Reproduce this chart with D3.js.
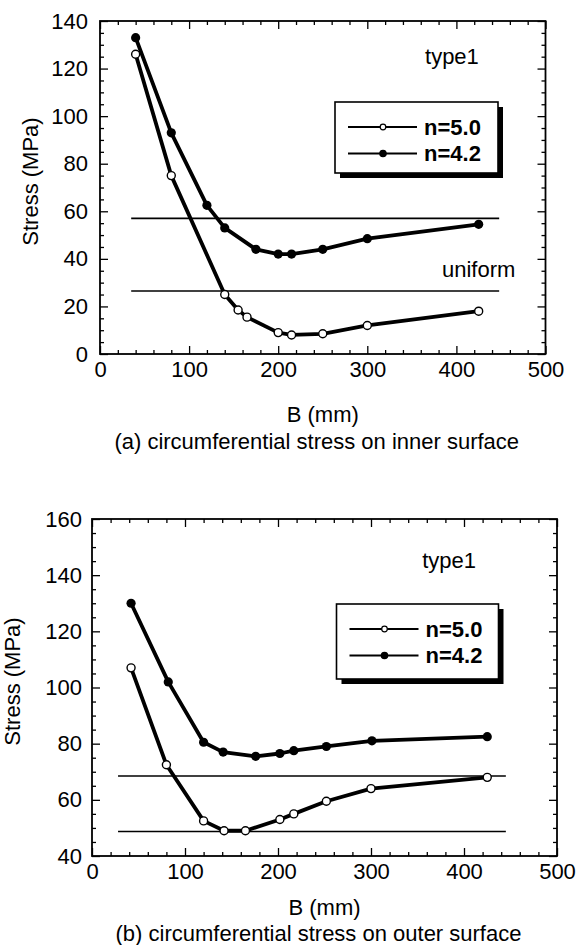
<!DOCTYPE html>
<html>
<head>
<meta charset="utf-8">
<script src="https://cdn.jsdelivr.net/npm/d3@7"></script>
<style>
  html, body { margin: 0; padding: 0; background: #fff; }
  svg { display: block; font-family: "Liberation Sans", Arial, Helvetica, sans-serif; }
</style>
</head>
<body>
<svg id="chart" width="580" height="945"></svg>
<script>
// ---------- data ----------
const xTickValues = [0, 100, 200, 300, 400, 500];
const aYTickValues = [0, 20, 40, 60, 80, 100, 120, 140];
const bYTickValues = [40, 60, 80, 100, 120, 140, 160];
const seriesNames = ["n=5.0", "n=4.2"];

// (a) inner surface
const aB_n50 = [40, 80, 140, 155, 165, 200, 215, 250, 300, 425];
const aS_n50 = [126, 75, 25, 18.5, 15.5, 9, 8, 8.5, 12, 18];
const aB_n42 = [40, 80, 120, 140, 175, 200, 215, 250, 300, 425];
const aS_n42 = [133, 93, 62.5, 53, 44, 42, 42, 44, 48.5, 54.5];
const aRefLevels = [57, 26.5];
const aRefRange = [35, 448];

// (b) outer surface
const bB_n50 = [42, 80, 120, 142, 165, 202, 217, 252, 300, 425];
const bS_n50 = [107, 72.5, 52.5, 49, 49, 53, 55, 59.5, 64, 68];
const bB_n42 = [42, 82, 120, 141, 176, 202, 217, 252, 301, 425];
const bS_n42 = [130, 102, 80.5, 77, 75.5, 76.5, 77.5, 79, 81, 82.5];
const bRefLevels = [68.5, 48.7];
const bRefRange = [28, 445];

const svg = d3.select("#chart");
const FONT = 22;

function drawPanel(cfg) {
  const g = svg.append("g");
  const x = d3.scaleLinear().domain([0, 500]).range([cfg.left, cfg.right]);
  const y = d3.scaleLinear().domain(cfg.yDomain).range([cfg.bottom, cfg.top]);
  const w = cfg.right - cfg.left, h = cfg.bottom - cfg.top;

  const xMinor = d3.range(0, 501, 20).filter(v => v % 100 !== 0);
  const yMinor = d3.range(cfg.yDomain[0], cfg.yDomain[1] + 0.1, 5).filter(v => v % 20 !== 0);

  function styleAxis(sel) {
    sel.select(".domain").remove();
    sel.selectAll(".tick line").attr("stroke", "#000").attr("stroke-width", 1.3);
    sel.selectAll("text").attr("fill", "#000").style("font-size", FONT + "px").style("font-family", "Liberation Sans, Arial, sans-serif");
  }

  g.append("g").attr("transform", `translate(0,${cfg.bottom})`)
    .call(d3.axisBottom(x).tickValues(xTickValues).tickSizeInner(-8).tickSizeOuter(0).tickPadding(cfg.xPad).tickFormat(d3.format("d")))
    .call(styleAxis);
  g.append("g").attr("transform", `translate(0,${cfg.bottom})`)
    .call(d3.axisBottom(x).tickValues(xMinor).tickSizeInner(-4).tickSizeOuter(0).tickFormat(""))
    .call(styleAxis);
  g.append("g").attr("transform", `translate(0,${cfg.top})`)
    .call(d3.axisTop(x).tickValues(xTickValues).tickSizeInner(-8).tickSizeOuter(0).tickFormat(""))
    .call(styleAxis);
  g.append("g").attr("transform", `translate(0,${cfg.top})`)
    .call(d3.axisTop(x).tickValues(xMinor).tickSizeInner(-4).tickSizeOuter(0).tickFormat(""))
    .call(styleAxis);
  g.append("g").attr("transform", `translate(${cfg.left},0)`)
    .call(d3.axisLeft(y).tickValues(cfg.yTicks).tickSizeInner(-8).tickSizeOuter(0).tickPadding(cfg.yPad).tickFormat(d3.format("d")))
    .call(styleAxis);
  g.append("g").attr("transform", `translate(${cfg.left},0)`)
    .call(d3.axisLeft(y).tickValues(yMinor).tickSizeInner(-4).tickSizeOuter(0).tickFormat(""))
    .call(styleAxis);
  g.append("g").attr("transform", `translate(${cfg.right},0)`)
    .call(d3.axisRight(y).tickValues(cfg.yTicks).tickSizeInner(-8).tickSizeOuter(0).tickFormat(""))
    .call(styleAxis);
  g.append("g").attr("transform", `translate(${cfg.right},0)`)
    .call(d3.axisRight(y).tickValues(yMinor).tickSizeInner(-4).tickSizeOuter(0).tickFormat(""))
    .call(styleAxis);

  g.append("rect").attr("x", cfg.left).attr("y", cfg.top).attr("width", w).attr("height", h)
    .attr("fill", "none").attr("stroke", "#000").attr("stroke-width", 1.8);

  cfg.refLevels.forEach(v => {
    g.append("line")
      .attr("x1", x(cfg.refRange[0])).attr("x2", x(cfg.refRange[1]))
      .attr("y1", y(v)).attr("y2", y(v))
      .attr("stroke", "#000").attr("stroke-width", 1.6);
  });

  const line = d3.line().x(d => x(d[0])).y(d => y(d[1]));
  const s50 = cfg.B50.map((b, i) => [b, cfg.S50[i]]);
  const s42 = cfg.B42.map((b, i) => [b, cfg.S42[i]]);

  [s50, s42].forEach(s => {
    g.append("path").datum(s).attr("d", line)
      .attr("fill", "none").attr("stroke", "#000").attr("stroke-width", 3.8)
      .attr("stroke-linejoin", "round");
  });
  g.selectAll(null).data(s42).join("circle")
    .attr("cx", d => x(d[0])).attr("cy", d => y(d[1])).attr("r", 4.6).attr("fill", "#000");
  g.selectAll(null).data(s50).join("circle")
    .attr("cx", d => x(d[0])).attr("cy", d => y(d[1])).attr("r", 4)
    .attr("fill", "#fff").attr("stroke", "#000").attr("stroke-width", 1.4);

  g.append("text").attr("transform", `translate(${cfg.yLabelX},${(cfg.top + cfg.bottom) / 2 - 6}) rotate(-90)`)
    .attr("text-anchor", "middle").attr("dominant-baseline", "central")
    .style("font-size", FONT + "px").text("Stress (MPa)");
  g.append("text").attr("x", (cfg.left + cfg.right) / 2).attr("y", cfg.xTitleY)
    .attr("text-anchor", "middle").attr("dominant-baseline", "central")
    .style("font-size", FONT + "px").text("B (mm)");
  g.append("text").attr("x", (cfg.left + cfg.right) / 2 - 6).attr("y", cfg.captionY)
    .attr("text-anchor", "middle").attr("dominant-baseline", "central")
    .style("font-size", FONT + "px").text(cfg.caption);

  g.append("text").attr("x", x(cfg.typePos[0])).attr("y", y(cfg.typePos[1]))
    .attr("text-anchor", "middle").attr("dominant-baseline", "central")
    .style("font-size", FONT + "px").text("type1");
  if (cfg.uniformPos) {
    g.append("text").attr("x", x(cfg.uniformPos[0])).attr("y", y(cfg.uniformPos[1]))
      .attr("text-anchor", "middle").attr("dominant-baseline", "central")
      .style("font-size", FONT + "px").text("uniform");
  }

  const L = cfg.legend;
  const lg = g.append("g");
  lg.append("rect").attr("x", L.x + 5).attr("y", L.y + 5).attr("width", L.w).attr("height", L.h).attr("fill", "#000");
  lg.append("rect").attr("x", L.x).attr("y", L.y).attr("width", L.w).attr("height", L.h)
    .attr("fill", "#fff").attr("stroke", "#000").attr("stroke-width", 1.6);
  seriesNames.forEach((name, i) => {
    const ry = L.y + L.row0 + i * L.rowGap;
    lg.append("line").attr("x1", L.x + 13).attr("x2", L.x + 82).attr("y1", ry).attr("y2", ry)
      .attr("stroke", "#000").attr("stroke-width", 1.8);
    lg.append("circle").attr("cx", L.x + 48).attr("cy", ry).attr("r", i === 0 ? 2.8 : 3.2)
      .attr("fill", i === 0 ? "#fff" : "#000").attr("stroke", "#000").attr("stroke-width", 1.2);
    lg.append("text").attr("x", L.x + 89).attr("y", ry).attr("dominant-baseline", "central")
      .style("font-size", "22px").style("font-weight", "bold").text(name);
  });
}

drawPanel({
  left: 100, right: 545.5, top: 21, bottom: 354,
  yDomain: [0, 140], yTicks: aYTickValues,
  B50: aB_n50, S50: aS_n50, B42: aB_n42, S42: aS_n42,
  refLevels: aRefLevels, refRange: aRefRange,
  xPad: 7, yPad: 12, yLabelX: 30, xTitleY: 414, captionY: 441,
  caption: "(a) circumferential stress on inner surface",
  typePos: [395, 125], uniformPos: [425, 35.7],
  legend: { x: 335, y: 102, w: 163, h: 71, row0: 25, rowGap: 26.5 }
});

drawPanel({
  left: 92, right: 557, top: 519, bottom: 856,
  yDomain: [40, 160], yTicks: bYTickValues,
  B50: bB_n50, S50: bS_n50, B42: bB_n42, S42: bS_n42,
  refLevels: bRefLevels, refRange: bRefRange,
  xPad: 7, yPad: 10, yLabelX: 12, xTitleY: 907, captionY: 933,
  caption: "(b) circumferential stress on outer surface",
  typePos: [384, 145.4], uniformPos: null,
  legend: { x: 336.5, y: 604, w: 162, h: 75, row0: 25, rowGap: 26.5 }
});
</script>
</body>
</html>
